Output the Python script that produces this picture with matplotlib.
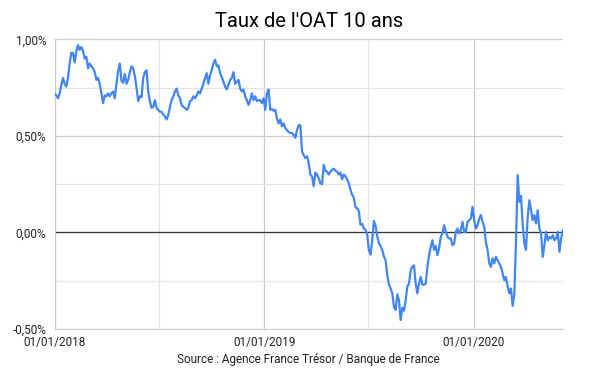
import matplotlib
matplotlib.use("Agg")
import matplotlib.pyplot as plt
import matplotlib.dates as mdates
from matplotlib.ticker import FuncFormatter, MultipleLocator
import pandas as pd

plt.rcParams['font.family'] = ['Roboto', 'DejaVu Sans']

# taux de l'OAT 10 ans (%), relevé tous les ~3 jours du 01/01/2018 au 04/06/2020
taux_2018 = [
    0.72, 0.71, 0.695, 0.72, 0.76, 0.80, 0.77, 0.755, 0.80, 0.875,
    0.93, 0.93, 0.88, 0.94, 0.97, 0.945, 0.96, 0.94, 0.90, 0.91,
    0.85, 0.875, 0.86, 0.85, 0.83, 0.79, 0.80, 0.77, 0.72, 0.67,
    0.71, 0.705, 0.72, 0.705, 0.72, 0.73, 0.695, 0.77, 0.835, 0.875,
    0.785, 0.775, 0.82, 0.77, 0.79, 0.83, 0.86, 0.85, 0.81, 0.75,
    0.68, 0.705, 0.70, 0.80, 0.83, 0.84, 0.73, 0.68, 0.645, 0.65,
    0.685, 0.645, 0.635, 0.625, 0.625, 0.61, 0.60, 0.585, 0.61, 0.65,
    0.685, 0.705, 0.73, 0.745, 0.71, 0.695, 0.66, 0.65, 0.645, 0.635,
    0.645, 0.68, 0.685, 0.705, 0.695, 0.71, 0.73, 0.72, 0.745, 0.77,
    0.80, 0.825, 0.77, 0.815, 0.84, 0.875, 0.895, 0.86, 0.865, 0.825,
    0.805, 0.78, 0.755, 0.74, 0.765, 0.79, 0.80, 0.83, 0.77, 0.78,
    0.79, 0.745, 0.73, 0.74, 0.705, 0.685, 0.66, 0.685, 0.72, 0.685,
    0.705, 0.68, 0.685, 0.685, 0.67,
]
taux_2019 = [
    0.695, 0.635, 0.72, 0.74, 0.635,
    0.64, 0.63, 0.635, 0.59, 0.565, 0.585, 0.55, 0.565, 0.54, 0.53,
    0.52, 0.515, 0.515, 0.505, 0.49, 0.53, 0.555, 0.555,
    0.42, 0.40, 0.385, 0.395, 0.36, 0.30, 0.29, 0.24, 0.31, 0.30,
    0.28, 0.255, 0.25, 0.35, 0.32, 0.315, 0.30, 0.315, 0.325, 0.33,
    0.32, 0.315, 0.30, 0.31, 0.275, 0.30, 0.29, 0.275, 0.255, 0.22,
    0.195,
    0.18, 0.13, 0.126, 0.109, 0.04, 0.045, 0.02, 0.014, -0.012, -0.09,
    -0.115, -0.04, 0.06, 0.035, -0.02, -0.055, -0.07, -0.09, -0.124,
    -0.143, -0.22, -0.27, -0.29, -0.315, -0.385, -0.40, -0.32, -0.35, -0.453,
    -0.39, -0.405, -0.35, -0.28, -0.264, -0.195, -0.178, -0.17, -0.264, -0.315,
    -0.264, -0.23, -0.27, -0.27, -0.264, -0.178, -0.117, -0.074, -0.04, -0.09,
    -0.07, -0.117, -0.083, -0.022, -0.005, 0.038, 0.003, -0.022, -0.031, -0.031,
    -0.066, -0.057, 0.003, 0.02, -0.005, 0.012, 0.055, 0.003, 0.003, 0.055,
    0.064, 0.072, 0.133,
]
taux_2020 = [
    0.06, 0.02, 0.038, 0.072, 0.09, 0.055, 0.03,
    -0.05, -0.09, -0.16, -0.178, -0.134, -0.16, -0.126, -0.143, -0.16, -0.178,
    -0.212, -0.247, -0.23, -0.28, -0.315, -0.29, -0.38, -0.32, -0.05, 0.297,
    0.16, 0.19, 0.04, -0.057, -0.09, 0.08, 0.167, 0.116, 0.064, 0.09,
    0.047, 0.116, 0.02, -0.005, -0.126, -0.066, 0.003, -0.04, -0.022, -0.031,
    -0.014, -0.04, -0.031, 0.003, -0.1, -0.031, 0.01,
]
taux = taux_2018 + taux_2019 + taux_2020
dates = pd.date_range("2018-01-01", "2020-06-04", periods=len(taux))

fig = plt.figure(figsize=(6, 3.71), dpi=100)
ax = fig.add_axes([0.091, 0.113, 0.847, 0.781])

ax.plot(dates, taux, color="#4285F4", lw=1.6, zorder=3)
ax.axhline(0, color="#333333", lw=0.9, zorder=2)

ax.set_xlim(dates[0], dates[-1])
ax.set_ylim(-0.5, 1.0)

ax.xaxis.set_major_locator(mdates.YearLocator())
ax.xaxis.set_major_formatter(mdates.DateFormatter("%d/%m/%Y"))
ax.xaxis.set_minor_locator(mdates.MonthLocator(bymonth=7))
ax.yaxis.set_major_locator(MultipleLocator(0.5))
ax.yaxis.set_minor_locator(MultipleLocator(0.25))
ax.yaxis.set_major_formatter(FuncFormatter(lambda v, p: f"{v:.2f}%".replace(".", ",")))

ax.grid(which="major", color="#cccccc", lw=0.9)
ax.grid(which="minor", color="#e5e5e5", lw=0.9)
ax.set_axisbelow(True)
for s in ["top", "right"]:
    ax.spines[s].set_visible(False)
ax.spines["left"].set_color("#cccccc")
ax.spines["bottom"].set_color("#cccccc")
ax.tick_params(which="both", length=0, labelsize=8.5, labelcolor="#222222")
ax.tick_params(axis="x", pad=5)
ax.tick_params(axis="y", pad=6)

ax.set_title("Taux de l'OAT 10 ans", fontsize=14.5, color="#000000", pad=9)
ax.set_xlabel("Source : Agence France Trésor / Banque de France", fontsize=8.5,
              color="#222222", labelpad=3)

fig.savefig("out.png", dpi=100)
